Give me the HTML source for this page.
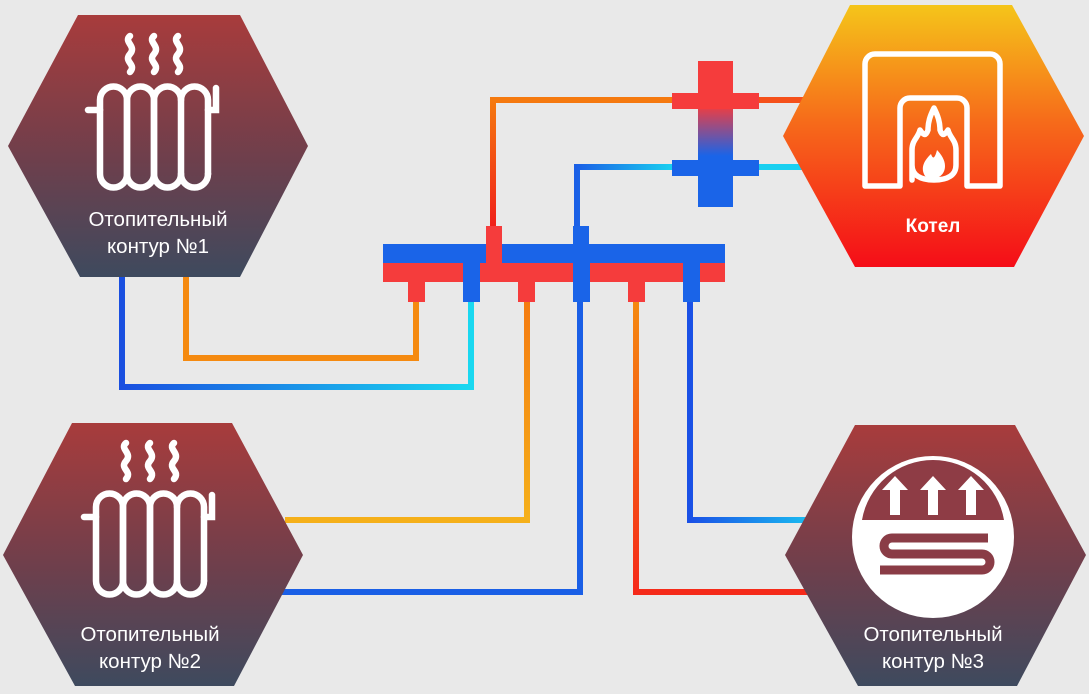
<!DOCTYPE html>
<html><head><meta charset="utf-8"><style>
html,body{margin:0;padding:0;background:#e9e9e9;}
svg{display:block}
text{font-family:"Liberation Sans","DejaVu Sans",sans-serif;fill:#fff;}
</style></head><body>
<svg width="1089" height="694" viewBox="0 0 1089 694" xmlns="http://www.w3.org/2000/svg">
<defs>
<linearGradient id="hx" x1="0" y1="0" x2="0" y2="1"><stop offset="0" stop-color="#a83c3c"/><stop offset="0.55" stop-color="#6e3f4c"/><stop offset="1" stop-color="#3e4a5e"/></linearGradient>
<linearGradient id="bo" x1="0" y1="0" x2="0" y2="1"><stop offset="0" stop-color="#f5c51a"/><stop offset="0.45" stop-color="#f66a1a"/><stop offset="1" stop-color="#f50d18"/></linearGradient>
<linearGradient id="hy" x1="0" y1="61" x2="0" y2="207" gradientUnits="userSpaceOnUse"><stop offset="0.3" stop-color="#f53c3c"/><stop offset="0.65" stop-color="#1a64e8"/></linearGradient>
<linearGradient id="g1" x1="0" y1="226" x2="0" y2="100" gradientUnits="userSpaceOnUse"><stop offset="0" stop-color="#f0201a"/><stop offset="1" stop-color="#f57a10"/></linearGradient>
<linearGradient id="g2" x1="577" y1="0" x2="672" y2="0" gradientUnits="userSpaceOnUse"><stop offset="0" stop-color="#1a5fe6"/><stop offset="1" stop-color="#1ad0f0"/></linearGradient>
<linearGradient id="g3" x1="122" y1="0" x2="471" y2="0" gradientUnits="userSpaceOnUse"><stop offset="0" stop-color="#1a4fe0"/><stop offset="1" stop-color="#1ad8f0"/></linearGradient>
<linearGradient id="g4" x1="0" y1="300" x2="0" y2="520" gradientUnits="userSpaceOnUse"><stop offset="0" stop-color="#f57a10"/><stop offset="1" stop-color="#f5b01a"/></linearGradient>
<linearGradient id="g5" x1="0" y1="300" x2="0" y2="592" gradientUnits="userSpaceOnUse"><stop offset="0" stop-color="#f58a10"/><stop offset="1" stop-color="#f52a1a"/></linearGradient>
<linearGradient id="g6" x1="690" y1="0" x2="805" y2="0" gradientUnits="userSpaceOnUse"><stop offset="0" stop-color="#1a50e6"/><stop offset="1" stop-color="#1ab8f0"/></linearGradient>
<g id="rad" fill="none" stroke="#fff" stroke-width="6.5" stroke-linecap="round">
<path d="M10 14 a13.5 13.5 0 0 1 27 0 v74 a13.5 13.5 0 0 1 -27 0 z"/>
<path d="M37 14 a13.5 13.5 0 0 1 27 0 v74 a13.5 13.5 0 0 1 -27 0 z"/>
<path d="M64 14 a13.5 13.5 0 0 1 27 0 v74 a13.5 13.5 0 0 1 -27 0 z"/>
<path d="M91 14 a13.5 13.5 0 0 1 27 0 v74"/>
<path d="M118 88 a13.5 13.5 0 0 1 -27 0"/>
<path d="M-2 24 h12"/>
<path d="M118 24 h8 v-22"/>
<path d="M40 -50 c-7 6 7 10 0 18 c-7 8 7 10 0 18"/>
<path d="M64 -50 c-7 6 7 10 0 18 c-7 8 7 10 0 18"/>
<path d="M88 -50 c-7 6 7 10 0 18 c-7 8 7 10 0 18"/>
</g>
</defs>

<g fill="none" stroke-width="6">
<path d="M493 226 V100 H672" stroke="url(#g1)"/>
<path d="M577 226 V167 H672" stroke="url(#g2)"/>
<path d="M759 100 H805" stroke="#f5501a"/>
<path d="M759 167 H805" stroke="#1ad0f0"/>
<path d="M416 300 V358 H186 V276" stroke="#f58a10"/>
<path d="M471 300 V387 H122 V276" stroke="url(#g3)"/>
<path d="M527 300 V520 H285" stroke="url(#g4)"/>
<path d="M580 300 V592 H280" stroke="#1a5fe6"/>
<path d="M636 300 V592 H808" stroke="url(#g5)"/>
<path d="M690 300 V520 H808" stroke="url(#g6)"/>
</g>

<g>
<rect x="698" y="61" width="35" height="146" fill="url(#hy)"/>
<rect x="672" y="93" width="87" height="16" fill="#f53c3c"/>
<rect x="672" y="160" width="87" height="16" fill="#1a64e8"/>
</g>

<g>
<rect x="383" y="244" width="342" height="19" fill="#1a64e8"/>
<rect x="383" y="263" width="342" height="19" fill="#f53c3c"/>
<rect x="486" y="226" width="16" height="37" fill="#f53c3c"/>
<rect x="573" y="226" width="16" height="18" fill="#1a64e8"/>
<rect x="408" y="280" width="17" height="22" fill="#f53c3c"/>
<rect x="463" y="263" width="17" height="39" fill="#1a64e8"/>
<rect x="518" y="280" width="17" height="22" fill="#f53c3c"/>
<rect x="573" y="263" width="17" height="39" fill="#1a64e8"/>
<rect x="628" y="280" width="17" height="22" fill="#f53c3c"/>
<rect x="683" y="263" width="17" height="39" fill="#1a64e8"/>
</g>

<polygon points="78,15 240,15 308,146 240,277 80,277 8,146" fill="url(#hx)"/>
<use href="#rad" x="90" y="86"/>
<text x="158" y="226" font-size="20.5" text-anchor="middle">Отопительный</text>
<text x="158" y="253" font-size="20.5" text-anchor="middle">контур  №1</text>

<polygon points="72,423 232,423 303,555 234,686 75,686 3,555" fill="url(#hx)"/>
<use href="#rad" x="86" y="493"/>
<text x="150" y="641" font-size="20.5" text-anchor="middle">Отопительный</text>
<text x="150" y="668" font-size="20.5" text-anchor="middle">контур  №2</text>

<polygon points="850,5 1012,5 1084,136 1014,267 855,267 783,136" fill="url(#bo)"/>
<g fill="none" stroke="#fff" stroke-width="5.5" stroke-linejoin="round">
<path d="M865 186 V64 a10 10 0 0 1 10 -10 H990 a10 10 0 0 1 10 10 V186 H967 V108 a10 10 0 0 0 -10 -10 H910 a10 10 0 0 0 -10 10 V186 z"/>
<path d="M912 180 V150 c0 -10 6 -12 8 -20 c4 6 6 6 8 0 c0 -8 2 -14 6 -22 c4 8 6 14 6 22 c2 6 4 6 8 0 c2 8 8 10 8 20 V165 c0 10 -8 15 -22 15 c-14 0 -22 -5 -22 -15z"/>
</g>
<path d="M925 176 c-6 -10 2 -18 6 -22 c2 6 4 4 6 -4 c4 4 8 10 8 16 c0 8 -6 12 -10 12 c-6 0 -8 0 -10 -2z" fill="#fff"/>
<text x="933" y="232" font-size="19" font-weight="bold" text-anchor="middle">Котел</text>

<polygon points="855,425 1015,425 1086,555 1017,686 858,686 785,555" fill="url(#hx)"/>
<circle cx="933" cy="537" r="81" fill="#fff"/>
<path d="M862 520 a72 72 0 0 1 142 0 z" fill="#8e3c45"/>
<g fill="#fff">
<polygon points="882,490 895,476 908,490 900,490 900,515 890,515 890,490"/>
<polygon points="920,490 933,476 946,490 938,490 938,515 928,515 928,490"/>
<polygon points="958,490 971,476 984,490 976,490 976,515 966,515 966,490"/>
</g>
<path d="M988 538 H892 a8 8 0 0 0 0 16 H982 a8 8 0 0 1 0 16 H880" fill="none" stroke="#8a3c46" stroke-width="9"/>
<text x="933" y="641" font-size="20.5" text-anchor="middle">Отопительный</text>
<text x="933" y="668" font-size="20.5" text-anchor="middle">контур  №3</text>
</svg>
</body></html>
